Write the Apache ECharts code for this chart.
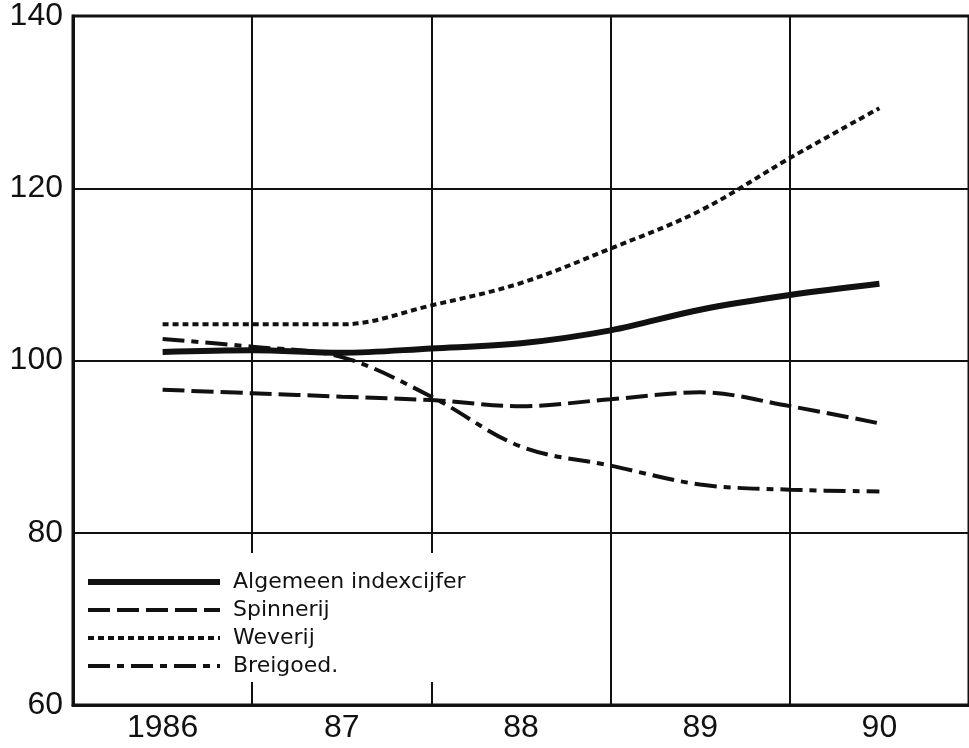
<!DOCTYPE html>
<html>
<head>
<meta charset="utf-8">
<script src="https://cdn.jsdelivr.net/npm/echarts@6/dist/echarts.min.js"></script>
<style>
  html, body { margin: 0; padding: 0; background: #fff; }
  #chart { width: 969px; height: 748px; }
</style>
</head>
<body>
<div id="chart"></div>
<script>
// jaren (categorie-as) en halfjaarlijkse meetpunten (t = 0 .. 4)
var years = ['1986', '87', '88', '89', '90'];
var steps = [0, 0.5, 1, 1.5, 2, 2.5, 3, 3.5, 4];

var algemeen  = [101.0, 101.2, 100.9, 101.4, 102.0, 103.5, 105.9, 107.6, 108.9];
var spinnerij = [96.6, 96.2, 95.8, 95.4, 94.7, 95.5, 96.3, 94.7, 92.7];
var weverij   = [104.2, 104.2, 104.2, 106.4, 109.0, 113.0, 117.4, 123.5, 129.3];
var breigoed  = [102.5, 101.6, 100.4, 95.8, 90.0, 87.8, 85.6, 85.0, 84.8];

var yTicks = { min: 60, max: 140, interval: 20 };

var stijl = {
  'Algemeen indexcijfer': { width: 6, type: 'solid' },
  'Spinnerij': { width: 4, type: [22, 7] },
  'Weverij': { width: 4, type: [6, 4] },
  'Breigoed.': { width: 4, type: [22, 7, 7, 7] }
};

function pts(vals) {
  return vals.map(function (v, i) { return [steps[i], v]; });
}

function lijn(name, vals) {
  var s = stijl[name];
  return {
    name: name,
    type: 'line',
    xAxisIndex: 1,
    data: pts(vals),
    smooth: 0.35,
    symbol: 'none',
    lineStyle: { color: '#111', width: s.width, type: s.type, cap: 'butt' },
    itemStyle: { color: '#111' }
  };
}

function legendItem(name) {
  var s = stijl[name];
  return {
    name: name,
    itemStyle: { opacity: 0 },
    lineStyle: { color: '#111', width: s.width, type: s.type, cap: 'butt' }
  };
}

var chart = echarts.init(document.getElementById('chart'));
chart.setOption({
  animation: false,
  backgroundColor: '#fff',
  grid: {
    left: 73, top: 15, width: 900, height: 690,
    show: true, borderColor: '#111', borderWidth: 3
  },
  xAxis: [
    {
      type: 'category',
      data: years,
      boundaryGap: true,
      axisLine: { lineStyle: { color: '#111', width: 3 } },
      axisTick: { show: false },
      splitLine: { show: true, lineStyle: { color: '#111', width: 2 } },
      axisLabel: {
        color: '#111', fontSize: 32, margin: 7,
        fontFamily: 'Liberation Sans, Arial, sans-serif'
      }
    },
    { type: 'value', min: -0.5, max: 4.5, show: false }
  ],
  yAxis: {
    type: 'value',
    min: yTicks.min, max: yTicks.max, interval: yTicks.interval,
    axisLine: { show: true, onZero: false, lineStyle: { color: '#111', width: 3 } },
    axisTick: { show: false },
    splitLine: { lineStyle: { color: '#111', width: 2 } },
    axisLabel: {
      color: '#111', fontSize: 32, margin: 10,
      padding: [10, 0, 0, 0],
      fontFamily: 'Liberation Sans, Arial, sans-serif'
    }
  },
  legend: {
    orient: 'vertical',
    left: 75, top: 553,
    padding: [18, 130, 5, 10],
    backgroundColor: '#fff',
    itemWidth: 132, itemHeight: 14, itemGap: 6,
    itemStyle: { opacity: 0 },
    textStyle: {
      color: '#111', fontSize: 22, lineHeight: 22,
      fontFamily: 'DejaVu Sans, sans-serif',
      padding: [0, 0, 0, 8]
    },
    data: ['Algemeen indexcijfer', 'Spinnerij', 'Weverij', 'Breigoed.'].map(legendItem)
  },
  series: [
    lijn('Algemeen indexcijfer', algemeen),
    lijn('Spinnerij', spinnerij),
    lijn('Weverij', weverij),
    lijn('Breigoed.', breigoed)
  ]
});
</script>
</body>
</html>
